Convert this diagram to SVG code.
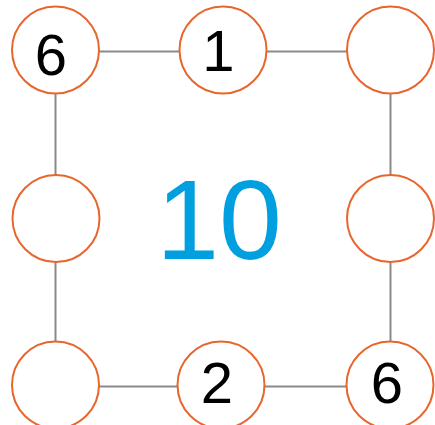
<svg xmlns="http://www.w3.org/2000/svg" width="435" height="425" viewBox="0 0 435 425">
<style>
.n{fill:#fff;stroke:#E8652C;stroke-width:2}
.c{stroke:#8a8a8a;stroke-width:2;fill:none}
.t{font-family:"Liberation Sans",Arial,sans-serif;font-size:58px;fill:#000;text-anchor:middle}
.big{font-family:"Liberation Sans",Arial,sans-serif;font-size:113px;fill:#00A0E0;text-anchor:middle}
</style>
<rect width="435" height="425" fill="#fff"/>
<g id="connectors">
<line class="c" x1="55.5" y1="51.5" x2="390.5" y2="51.5"/>
<line class="c" x1="55.5" y1="386.5" x2="390.5" y2="386.5"/>
<line class="c" x1="55.5" y1="51.5" x2="55.5" y2="386.5"/>
<line class="c" x1="390.5" y1="51.5" x2="390.5" y2="386.5"/>
</g>
<g id="n1"><circle class="n" cx="55.5" cy="50" r="43.5"/><text class="t" x="51" y="75">6</text></g>
<g id="n2"><circle class="n" cx="223" cy="50" r="43.5"/><text class="t" x="218.5" y="71">1</text></g>
<g id="n3"><circle class="n" cx="390.5" cy="50" r="43.5"/></g>
<g id="n4"><circle class="n" cx="56" cy="218.5" r="43.5"/></g>
<g id="n5"><circle class="n" cx="390.5" cy="218.5" r="43.5"/></g>
<g id="n6"><circle class="n" cx="55.5" cy="385" r="43.5"/></g>
<g id="n7"><circle class="n" cx="221" cy="385" r="43.5"/><text class="t" x="217" y="403">2</text></g>
<g id="n8"><circle class="n" cx="390" cy="385" r="43.5"/><text class="t" x="387" y="403">6</text></g>
<g id="center"><text class="big" x="219" y="259">10</text></g>
</svg>
